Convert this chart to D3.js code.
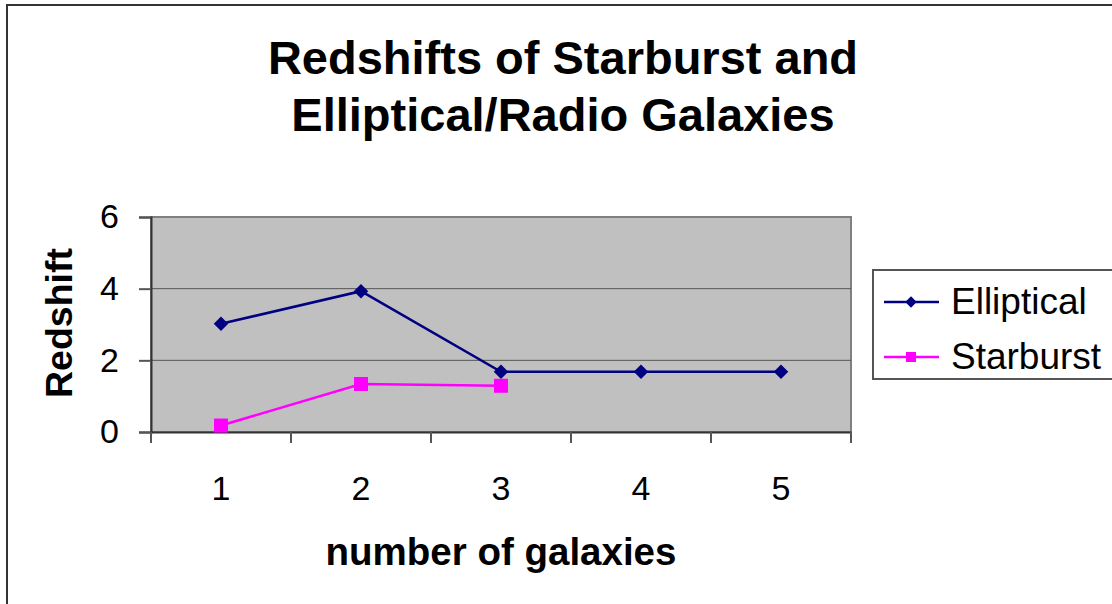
<!DOCTYPE html>
<html>
<head>
<meta charset="utf-8">
<script src="https://cdn.jsdelivr.net/npm/d3@7"></script>
<style>
  html, body { margin: 0; padding: 0; background: #ffffff; }
  svg { display: block; }
  text { font-family: "Liberation Sans", Arial, sans-serif; fill: #000; }
</style>
</head>
<body>
<svg id="chart" width="1112" height="604"></svg>
<script>
// ---- data ----
const categories = ["1", "2", "3", "4", "5"];
const ellipticalValues = [3.02, 3.93, 1.68, 1.68, 1.68];
const starburstValues = [0.18, 1.34, 1.29];
const yTickValues = [0, 2, 4, 6];
const seriesNames = ["Elliptical", "Starburst"];
const titleLines = ["Redshifts of Starburst and", "Elliptical/Radio Galaxies"];
const xAxisTitle = "number of galaxies";
const yAxisTitle = "Redshift";

// ---- layout ----
const svg = d3.select("#chart");
const plot = { left: 151, right: 851, top: 217, bottom: 432 };

const x = d3.scaleBand().domain(categories).range([plot.left, plot.right]).padding(0);
const y = d3.scaleLinear().domain([0, 6]).range([plot.bottom, plot.top]);
const cx = c => x(c) + x.bandwidth() / 2;

// outer chart border
svg.append("rect")
  .attr("x", 7).attr("y", 5).attr("width", 1200).attr("height", 700)
  .attr("fill", "none").attr("stroke", "#333").attr("stroke-width", 2);

// title
svg.append("g").selectAll("text").data(titleLines).join("text")
  .attr("x", 563).attr("y", (d, i) => 74 + i * 57)
  .attr("text-anchor", "middle")
  .attr("font-size", 47).attr("font-weight", "bold")
  .text(d => d);

// plot background
svg.append("rect")
  .attr("x", plot.left).attr("y", plot.top)
  .attr("width", plot.right - plot.left).attr("height", plot.bottom - plot.top)
  .attr("fill", "#c0c0c0").attr("stroke", "#808080").attr("stroke-width", 2);

// gridlines
svg.append("g").selectAll("line").data(yTickValues.filter(v => v > 0 && v < 6)).join("line")
  .attr("x1", plot.left).attr("x2", plot.right)
  .attr("y1", d => y(d)).attr("y2", d => y(d))
  .attr("stroke", "#555").attr("stroke-width", 1);

// y axis
const yAxis = svg.append("g").attr("transform", `translate(${plot.left},0)`)
  .call(d3.axisLeft(y).tickValues(yTickValues).tickSize(12).tickPadding(20).tickFormat(d3.format("d")));
yAxis.select(".domain").attr("stroke", "#333").attr("stroke-width", 2);
yAxis.selectAll(".tick line").attr("stroke", "#555").attr("stroke-width", 2);
yAxis.selectAll(".tick text").attr("font-size", 34).attr("font-family", "Liberation Sans, Arial, sans-serif").attr("fill", "#000");

// x axis (labels at category centers)
const xAxis = svg.append("g").attr("transform", `translate(0,${plot.bottom})`)
  .call(d3.axisBottom(x).tickSize(0).tickPadding(44));
xAxis.select(".domain").attr("stroke", "#333").attr("stroke-width", 2);
xAxis.selectAll(".tick text").attr("font-size", 34).attr("font-family", "Liberation Sans, Arial, sans-serif").attr("fill", "#000");

// x ticks at category boundaries
const boundaries = categories.map(c => x(c)).concat([x(categories[categories.length - 1]) + x.bandwidth()]);
svg.append("g").selectAll("line").data(boundaries).join("line")
  .attr("x1", d => d).attr("x2", d => d)
  .attr("y1", plot.bottom).attr("y2", plot.bottom + 11)
  .attr("stroke", "#555").attr("stroke-width", 2);

// axis titles
svg.append("text")
  .attr("x", 501).attr("y", 565)
  .attr("text-anchor", "middle").attr("font-size", 38.5).attr("font-weight", "bold")
  .text(xAxisTitle);
svg.append("text")
  .attr("transform", "translate(72,323) rotate(-90)")
  .attr("text-anchor", "middle").attr("font-size", 37.5).attr("font-weight", "bold")
  .text(yAxisTitle);

// series lines
const line = d3.line().x((d, i) => cx(categories[i])).y(d => y(d));
svg.append("path").datum(ellipticalValues)
  .attr("d", line).attr("fill", "none").attr("stroke", "#000080").attr("stroke-width", 2.5);
svg.append("path").datum(starburstValues)
  .attr("d", line).attr("fill", "none").attr("stroke", "#ff00ff").attr("stroke-width", 2.5);

// markers
svg.append("g").selectAll("path").data(ellipticalValues).join("path")
  .attr("d", d3.symbol().type(d3.symbolSquare).size(105)())
  .attr("transform", (d, i) => `translate(${cx(categories[i])},${y(d)}) rotate(45)`)
  .attr("fill", "#000080");
svg.append("g").selectAll("rect").data(starburstValues).join("rect")
  .attr("x", (d, i) => cx(categories[i]) - 7).attr("y", d => y(d) - 7)
  .attr("width", 14).attr("height", 14)
  .attr("fill", "#ff00ff");

// legend
const legend = svg.append("g");
legend.append("rect")
  .attr("x", 873).attr("y", 270).attr("width", 300).attr("height", 109)
  .attr("fill", "#fff").attr("stroke", "#555").attr("stroke-width", 2);
const legendColors = ["#000080", "#ff00ff"];
const rows = legend.selectAll("g.row").data(seriesNames).join("g")
  .attr("class", "row")
  .attr("transform", (d, i) => `translate(0,${302 + i * 55})`);
rows.append("line")
  .attr("x1", 884).attr("x2", 939).attr("y1", 0).attr("y2", 0)
  .attr("stroke", (d, i) => legendColors[i]).attr("stroke-width", 2.5);
rows.filter((d, i) => i === 0).append("path")
  .attr("d", d3.symbol().type(d3.symbolSquare).size(65)())
  .attr("transform", "translate(911,0) rotate(45)")
  .attr("fill", legendColors[0]);
rows.filter((d, i) => i === 1).append("rect")
  .attr("x", 906).attr("y", -5).attr("width", 10).attr("height", 10)
  .attr("fill", legendColors[1]);
rows.append("text")
  .attr("x", 951).attr("y", 12)
  .attr("font-size", 37)
  .text(d => d);
</script>
</body>
</html>
